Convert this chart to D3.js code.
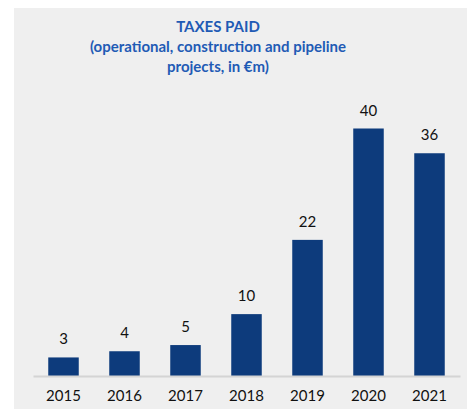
<!DOCTYPE html>
<html>
<head>
<meta charset="utf-8">
<script src="https://cdn.jsdelivr.net/npm/d3@7"></script>
<style>
  html, body { margin: 0; padding: 0; background: #fff; }
  svg { display: block; }
</style>
</head>
<body>
<svg width="467" height="409"></svg>
<script>
const years = ["2015", "2016", "2017", "2018", "2019", "2020", "2021"];
const taxes = [3, 4, 5, 10, 22, 40, 36];
const titleLines = [
  "TAXES PAID",
  "(operational, construction and pipeline",
  "projects, in \u20acm)"
];

const svg = d3.select("svg");
const width = +svg.attr("width");
const height = +svg.attr("height");

const margin = { top: 128.5, right: 7, bottom: 33, left: 33 };
const baseY = height - margin.bottom;

// grey panel
svg.append("rect")
  .attr("x", 14).attr("y", 8)
  .attr("width", width - 14).attr("height", height - 8)
  .attr("fill", "#efefef");

const x = d3.scaleBand()
  .domain(years)
  .range([margin.left, width - margin.right])
  .paddingInner(0.5)
  .paddingOuter(0.25);

const y = d3.scaleLinear()
  .domain([0, 40])
  .range([baseY, margin.top]);

// title
const title = svg.append("text")
  .attr("x", 218)
  .attr("y", 32)
  .attr("text-anchor", "middle")
  .attr("fill", "#1f5bb5")
  .attr("font-family", "Lato, 'Open Sans', sans-serif")
  .attr("font-weight", "bold")
  .attr("font-size", 15);

title.selectAll("tspan")
  .data(titleLines)
  .join("tspan")
  .attr("x", 218)
  .attr("dy", (d, i) => i ? 20 : 0)
  .text(d => d);

// bars
svg.append("g")
  .selectAll("rect")
  .data(taxes)
  .join("rect")
  .attr("x", (d, i) => x(years[i]))
  .attr("y", d => y(d))
  .attr("width", x.bandwidth())
  .attr("height", d => baseY - y(d))
  .attr("fill", "#0d3b7c");

// axis
const xAxis = d3.axisBottom(x).tickSize(0).tickPadding(14);
const gx = svg.append("g")
  .attr("transform", `translate(0,${baseY})`)
  .call(xAxis);
gx.select(".domain").attr("stroke", "#d4d4d4").attr("stroke-width", 2);
gx.selectAll("text")
  .attr("fill", "#111")
  .attr("font-family", "Lato, 'Open Sans', sans-serif")
  .attr("font-size", 15);

// value labels
svg.append("g")
  .selectAll("text")
  .data(taxes)
  .join("text")
  .attr("x", (d, i) => x(years[i]) + x.bandwidth() / 2)
  .attr("y", d => y(d) - 13)
  .attr("text-anchor", "middle")
  .attr("fill", "#111")
  .attr("font-family", "Lato, 'Open Sans', sans-serif")
  .attr("font-size", 15)
  .text(d => d);
</script>
</body>
</html>
